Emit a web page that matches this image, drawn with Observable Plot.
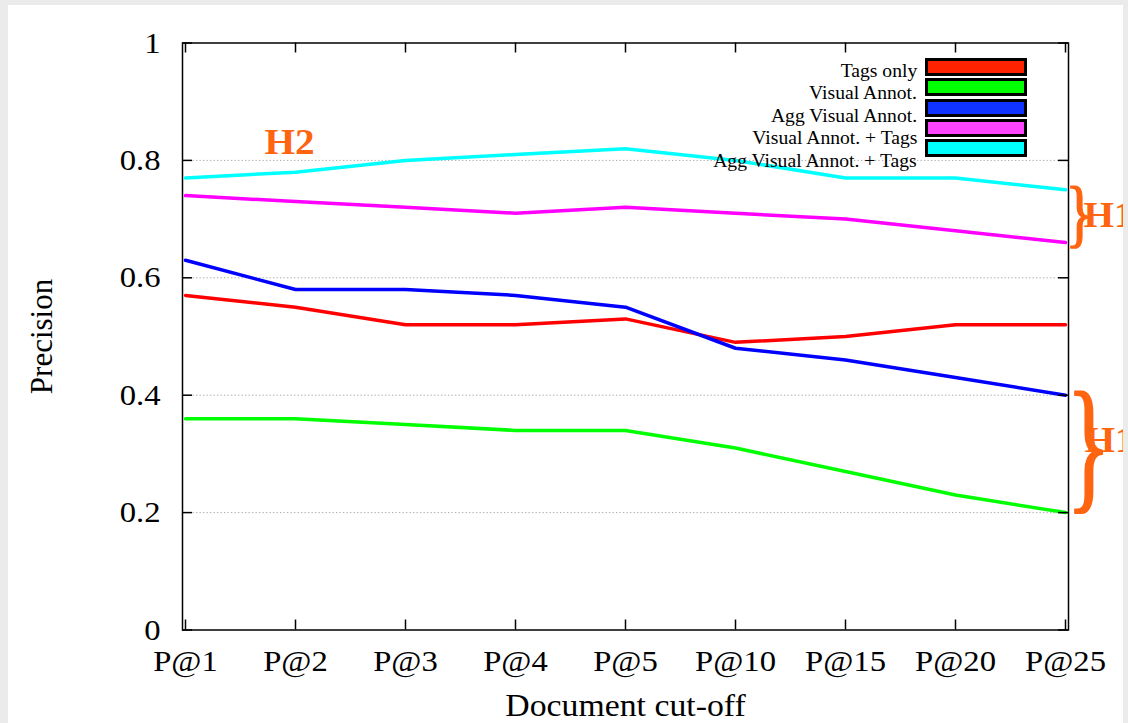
<!DOCTYPE html>
<html>
<head>
<meta charset="utf-8">
<script src="https://cdn.jsdelivr.net/npm/d3@7"></script>
<script src="https://cdn.jsdelivr.net/npm/@observablehq/plot@0.6"></script>
<style>
html, body { margin: 0; padding: 0; background: #ebebeb; width: 1128px; height: 723px; overflow: hidden; }
#card { position: absolute; left: 8px; top: 5px; width: 1115px; height: 718px; background: #fff; overflow: hidden; }
.leg-box { position: absolute; box-sizing: border-box; border: 3px solid #000; width: 102px; height: 18px; }
.leg-text { position: absolute; font-family: "Liberation Serif", "Times New Roman", serif; font-size: 18px; line-height: 18px;
  white-space: nowrap; text-align: right; transform: scaleX(1.09); transform-origin: right center; color: #000; }
</style>
</head>
<body>
<div id="card"></div>
<script>
// ---- data ----
const categories = ["P@1", "P@2", "P@3", "P@4", "P@5", "P@10", "P@15", "P@20", "P@25"];
const seriesNames = ["Tags only", "Visual Annot.", "Agg Visual Annot.", "Visual Annot. + Tags", "Agg Visual Annot. + Tags"];
const tagsOnly           = [0.57, 0.55, 0.52, 0.52, 0.53, 0.49, 0.50, 0.52, 0.52];
const visualAnnot        = [0.36, 0.36, 0.35, 0.34, 0.34, 0.31, 0.27, 0.23, 0.20];
const aggVisualAnnot     = [0.63, 0.58, 0.58, 0.57, 0.55, 0.48, 0.46, 0.43, 0.40];
const visualAnnotTags    = [0.74, 0.73, 0.72, 0.71, 0.72, 0.71, 0.70, 0.68, 0.66];
const aggVisualAnnotTags = [0.77, 0.78, 0.80, 0.81, 0.82, 0.80, 0.77, 0.77, 0.75];
const seriesValues = [tagsOnly, visualAnnot, aggVisualAnnot, visualAnnotTags, aggVisualAnnotTags];
const lineColors = ["#ff0000", "#00ff00", "#0000ff", "#ff00ff", "#00ffff"];
const legendColors = ["#ff2200", "#00ff00", "#1133ff", "#ff44ff", "#00ffff"];
const yTicks = [0, 0.2, 0.4, 0.6, 0.8, 1];
const gridTicks = [0.2, 0.4, 0.6, 0.8];
const xTitle = "Document cut-off";
const yTitle = "Precision";
// annotations: H1 brackets group series at the last cut-off; H2 label above the top series
const h1Groups = [["Visual Annot. + Tags", "Agg Visual Annot. + Tags"], ["Visual Annot.", "Agg Visual Annot."]];
const h2Label = {label: "H2", x: "P@2", y: 0.83};

// ---- layout ----
const W = 1115, H = 718;
const mL = 174, mR = 55, mT = 37.5, mB = 93.5;
const plotW = W - mL - mR, plotH = H - mT - mB;
const serif = "Liberation Serif, Times New Roman, serif";
const orange = "#ff6410";

const rows = [];
seriesNames.forEach((name, si) => categories.forEach((c, ci) => rows.push({series: name, cat: c, value: seriesValues[si][ci]})));

const lastCat = categories[categories.length - 1];
const h1Data = h1Groups.map(g => {
  const vals = g.map(n => seriesValues[seriesNames.indexOf(n)][categories.length - 1]);
  return {x: lastCat, y: d3.mean(vals)};
});

const marks = [
  Plot.ruleY(gridTicks, {stroke: "#a8a8a8", strokeWidth: 1, strokeDasharray: "1.3,2.2"}),
  ...seriesNames.map((name, i) =>
    Plot.lineY(rows.filter(r => r.series === name), {x: "cat", y: "value", stroke: lineColors[i], strokeWidth: 3.5})
  ),
  // inward ticks
  Plot.ruleY(yTicks, {stroke: "#000", strokeWidth: 1.5, insetRight: plotW - 10}),
  Plot.ruleY(yTicks, {stroke: "#000", strokeWidth: 1.5, insetLeft: plotW - 10}),
  Plot.ruleX(categories, {stroke: "#000", strokeWidth: 1.5, insetTop: plotH - 10}),
  Plot.ruleX(categories, {stroke: "#000", strokeWidth: 1.5, insetBottom: plotH - 10}),
  Plot.frame({stroke: "#000", strokeWidth: 1.5}),
  Plot.axisX({tickSize: 0, tickPadding: 20, fontSize: 30, fontFamily: serif, label: null, fill: "#000"}),
  Plot.axisY({ticks: yTicks, tickFormat: d => String(d), tickSize: 0, tickPadding: 22, fontSize: 30, fontFamily: serif, label: null, fill: "#000"}),
  Plot.text([xTitle], {frameAnchor: "bottom", textAnchor: "middle", lineAnchor: "middle", dy: 76.5, fontSize: 31, fontFamily: serif, fill: "#000"}),
  Plot.text([yTitle], {frameAnchor: "left", textAnchor: "middle", lineAnchor: "middle", dx: -140, rotate: -90, fontSize: 31, fontFamily: serif, fill: "#000"}),
  // H2
  Plot.text([h2Label], {x: "x", y: "y", text: "label", dx: -6, fontSize: 36, fontWeight: "bold", fontFamily: serif, fill: orange}),
  // H1 braces
  Plot.text([h1Data[0]], {x: "x", y: "y", text: () => "}", textAnchor: "start", dx: 0, dy: -2, fontSize: 58, fontFamily: serif, fill: orange, stroke: orange, strokeWidth: 1.2}),
  Plot.text([h1Data[1]], {x: "x", y: "y", text: () => "}", textAnchor: "start", dx: 1, dy: -8, fontSize: 92, fontFamily: serif, fill: orange, stroke: orange, strokeWidth: 1.4}),
  Plot.text([h1Data[0]], {x: "x", y: "y", text: () => "H1", textAnchor: "start", dx: 18, dy: -1, fontSize: 36, fontWeight: "bold", fontFamily: serif, fill: orange}),
  Plot.text([h1Data[1]], {x: "x", y: "y", text: () => "H1", textAnchor: "start", dx: 19, dy: -13, fontSize: 36, fontWeight: "bold", fontFamily: serif, fill: orange})
];

const svg = Plot.plot({
  width: W, height: H,
  marginLeft: mL, marginRight: mR, marginTop: mT, marginBottom: mB,
  x: {type: "point", domain: categories, padding: 0, axis: null},
  y: {domain: [0, 1], axis: null},
  style: {fontFamily: serif, background: "white", overflow: "hidden", color: "#000"},
  marks
});

// slight horizontal widening of upright text (the reference is horizontally stretched);
// braces are stretched vertically instead
d3.select(svg).selectAll("text").each(function () {
  const t = this.getAttribute("transform") || "";
  if (this.textContent === "}") {
    const k = +(this.closest("g").getAttribute("font-size")) >= 80 ? 1.59 : 1.26;
    this.setAttribute("transform", t + ` scale(1,${k})`);
  } else if (t.includes("translate") && !t.includes("rotate")) {
    this.setAttribute("transform", t + " scale(1.09,1)");
  }
});

const card = document.getElementById("card");
card.appendChild(svg);

// legend (top right, inside the frame)
seriesNames.forEach((name, i) => {
  const box = document.createElement("div");
  box.className = "leg-box";
  box.style.left = "917px";
  box.style.top = (52.7 + i * 20.4) + "px";
  box.style.background = legendColors[i];
  card.appendChild(box);
  const txt = document.createElement("div");
  txt.className = "leg-text";
  txt.style.right = (W - 909) + "px";
  txt.style.top = (56.6 + i * 22.5) + "px";
  txt.textContent = name;
  card.appendChild(txt);
});
</script>
</body>
</html>
